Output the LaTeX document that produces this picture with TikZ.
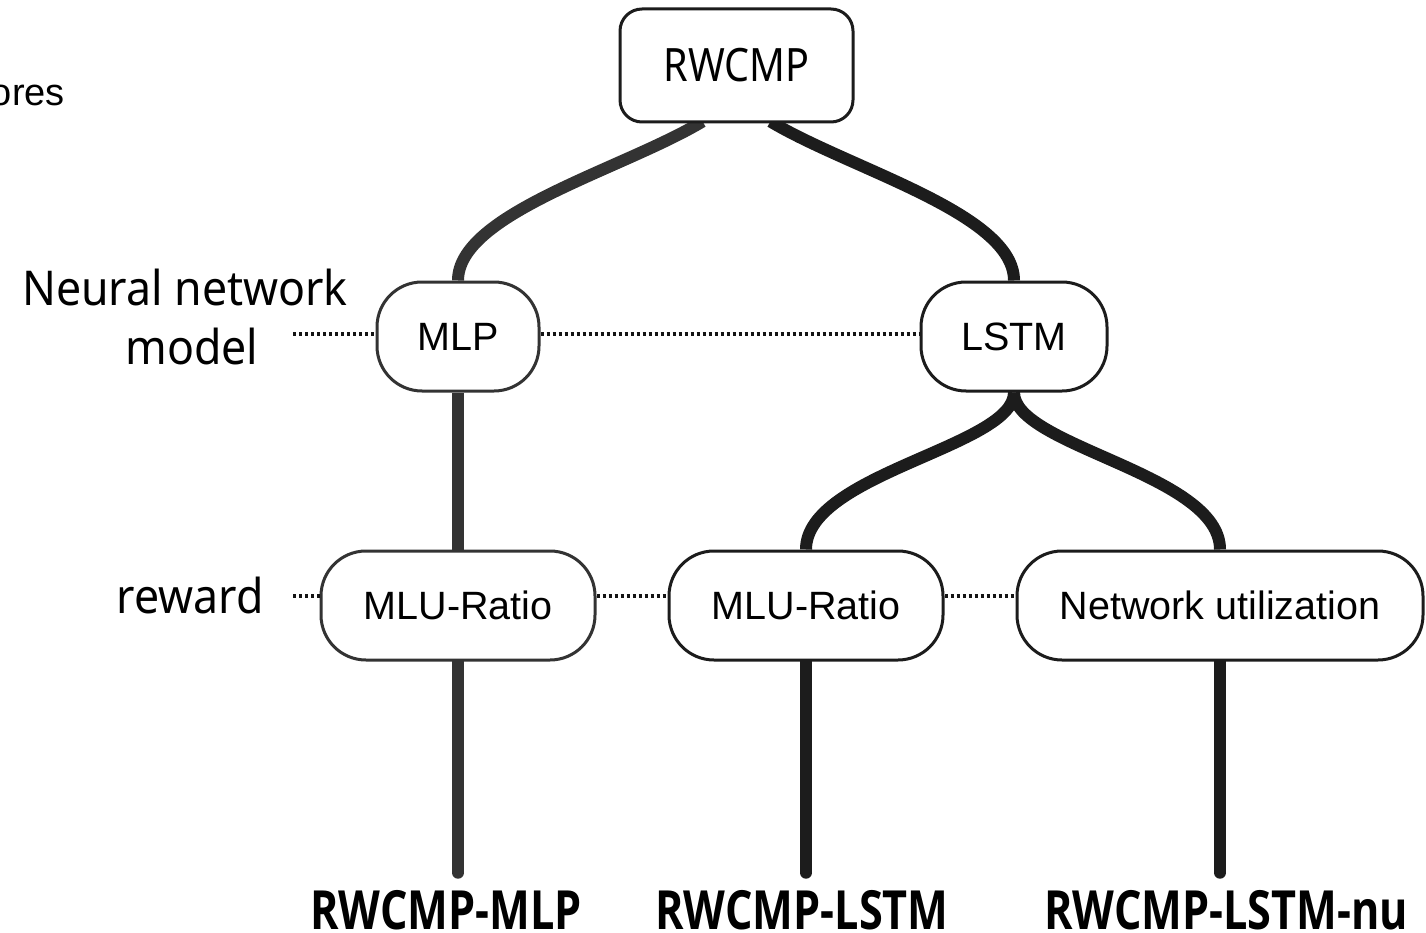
\documentclass[tikz,border=0pt]{standalone}
\usepackage{fontspec}
\usetikzlibrary{calc}
\newfontfamily\mg[FakeStretch=0.86]{Noto Sans}
\newfontfamily\mgs[FakeStretch=0.93]{Noto Sans}
\newfontfamily\mgb[FakeStretch=0.80]{Open Sans}
\newfontfamily\ar{Liberation Sans}
\definecolor{inkA}{HTML}{333333}
\definecolor{inkB}{HTML}{1C1C1C}
\pgfdeclarelayer{bg}
\pgfsetlayers{bg,main}
\tikzset{
  box/.style={draw=inkB, line width=3pt, fill=white, inner sep=0pt,
    minimum height=109pt, rounded corners=45pt, font=\ar\fontsize{39.5}{44}\selectfont},
  topbox/.style={box, minimum width=233pt, minimum height=113pt, rounded corners=22pt,
    font=\mg\fontsize{46}{52}\selectfont},
  side/.style={inner sep=0pt, font=\mgs\fontsize{48}{56}\selectfont},
  result/.style={inner sep=0pt, font=\mgb\bfseries\fontsize{54}{60}\selectfont},
  link/.style={line width=12pt},
  dots/.style={line width=4pt, dash pattern=on 3.3pt off 2.7pt, color=black!92},
  tail/.style={link, line cap=round, shorten >=17pt}
}
\begin{document}
\begin{tikzpicture}[x=1pt, y=-1pt]
\useasboundingbox (0,0) rectangle (1426,933);

% tree nodes
\node[topbox] (rw) at (736.5,65.5) {RWCMP};
\node[box, draw=inkA, minimum width=162pt] (mlp) at (458,336.5) {MLP};
\node[box, minimum width=186pt] (lstm) at (1014,336.5) {LSTM};
\node[box, draw=inkA, minimum width=274pt] (r1) at (458,605.5) {MLU-Ratio};
\node[box, minimum width=274pt] (r2) at (806,605.5) {MLU-Ratio};
\node[box, minimum width=406pt] (r3) at (1220,605.5) {Network utilization};

% row captions
\node[inner sep=0pt, font=\ar\fontsize{38}{44}\selectfont, anchor=base east] (sc) at (65,106) {ores};
\node[side, anchor=base] (nn1) at (185,305) {Neural network};
\node[side, anchor=base] (nn2) at (192,364) {model};
\node[side, anchor=base] (rew) at (190,613) {reward};
\coordinate (d1) at (293,334);
\coordinate (d2) at (293,596);

% resulting variants
\node[result, anchor=base] (v1) at (446,929) {RWCMP-MLP};
\node[result, anchor=base] (v2) at (802,929) {RWCMP-LSTM};
\node[result, anchor=base] (v3) at (1226,929) {RWCMP-LSTM-nu};

\begin{pgfonlayer}{bg}
  % branches
  \draw[link, inkA] ($(rw.south)+(-34,-2)$) .. controls +(-80,48) and +(0,-67) .. (mlp.north);
  \draw[link, inkB] ($(rw.south)+(34,-2)$) .. controls +(80,48) and +(0,-67) .. (lstm.north);
  \draw[link, inkA] (mlp.south) -- (r1.north);
  \draw[link, inkB] (lstm.south) .. controls +(0,54) and +(0,-76) .. (r2.north);
  \draw[link, inkB] (lstm.south) .. controls +(0,54) and +(0,-76) .. (r3.north);
  % outputs
  \draw[tail, inkA] (r1.south) -- (r1.south |- v1.north);
  \draw[tail, inkB] (r2.south) -- (r2.south |- v2.north);
  \draw[tail, inkB] (r3.south) -- (r3.south |- v3.north);
\end{pgfonlayer}

% level guides
\draw[dots] (d1) -- (mlp.west |- d1);
\draw[dots] (mlp.east |- d1) -- (lstm.west |- d1);
\draw[dots] (d2) -- (r1.west |- d2);
\draw[dots] (r1.east |- d2) -- (r2.west |- d2);
\draw[dots] (r2.east |- d2) -- (r3.west |- d2);
\end{tikzpicture}
\end{document}
